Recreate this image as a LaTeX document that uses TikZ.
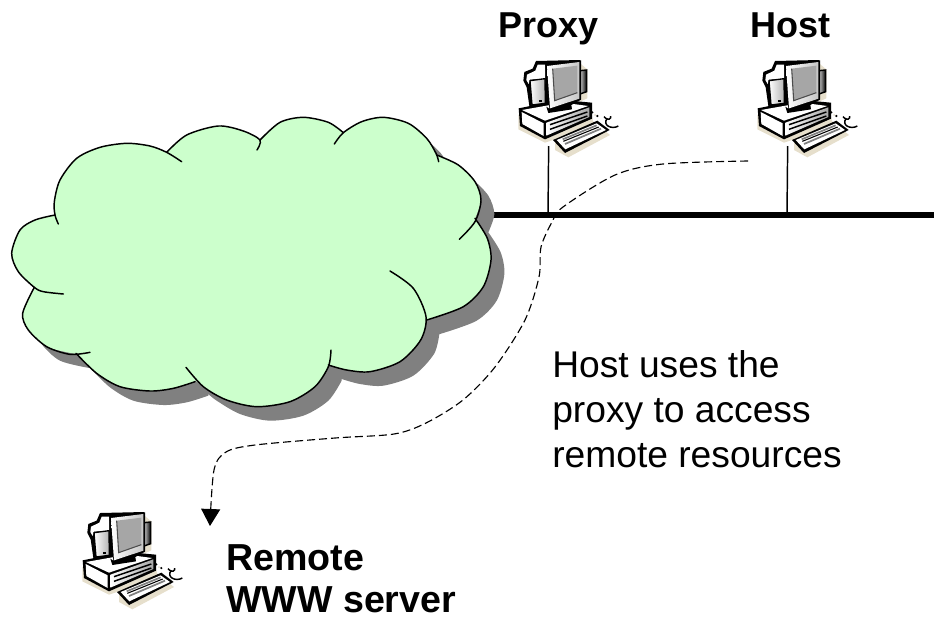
\documentclass[tikz,border=0pt]{standalone}
\usepackage{fontspec}
\setmainfont{Liberation Sans}
\usetikzlibrary{arrows.meta}
\definecolor{cloudgreen}{HTML}{CCFFCC}
\definecolor{shadowgray}{HTML}{808080}
\definecolor{iconshadow}{HTML}{E6DFCC}
\definecolor{screengray}{HTML}{A6A6A6}
\tikzset{
  lobe/.style={draw=black,line width=1.1pt,line cap=round},
  cloud outline/.style={insert path={
    plot[smooth] coordinates{(165,375)(163,335)(180,270)(230,205)(300,172)(380,160)(450,168)(500,187)}
    -- plot[smooth] coordinates{(500,187)(560,135)(655,108)(730,123)(780,150)}
    -- plot[smooth] coordinates{(780,150)(840,97)(910,82)(985,97)(1030,128)}
    -- plot[smooth] coordinates{(1030,128)(1085,95)(1150,82)(1225,100)(1280,145)(1308,190)}
    -- plot[smooth] coordinates{(1310,195)(1375,225)(1425,275)(1443,330)(1425,385)}
    -- plot[smooth] coordinates{(1425,385)(1462,445)(1473,510)(1450,590)(1390,650)(1280,690)}
    -- plot[smooth] coordinates{(1278,690)(1262,750)(1200,815)(1110,845)(1040,840)(985,825)}
    -- plot[smooth] coordinates{(985,830)(945,890)(870,935)(770,950)(680,930)(610,890)(585,870)}
    -- plot[smooth] coordinates{(585,875)(520,895)(450,903)(360,890)(290,850)(228,790)}
    -- plot[smooth] coordinates{(228,792)(140,770)(85,720)(68,670)(103,592)}
    -- plot[smooth] coordinates{(103,592)(55,545)(35,490)(60,420)(105,390)(165,375)}
    -- cycle}},
  bold label/.style={font=\fontsize{27}{31.5}\selectfont\bfseries,inner sep=0pt,anchor=base west,align=left},
  wide bold label/.style={font=\fontsize{28.2}{31.5}\selectfont\bfseries,inner sep=0pt,anchor=base west,align=left},
  body label/.style={font=\fontsize{27.9}{33.75}\selectfont,inner sep=0pt,anchor=base west,align=left},
  drop/.style={draw=black,line width=1.1pt},
  busline/.style={draw=black,line width=5pt},
  path line/.style={draw=black,line width=.85pt,dash pattern=on 6pt off 3pt,-{Triangle[length=12.75pt,width=14.25pt]}},
  pics/computer/.style={code={
    \begin{scope}[x=.25pt,y=-.25pt]
      % cream shadows
      \fill[iconshadow] (55,195)--(55,238)--(135,278)--(165,268)--(165,300)--(205,322)--(330,255)--(280,215)--(270,180)--cycle;
      \fill[iconshadow] (238,38)--(262,58)--(262,145)--(240,155)--cycle;
      % CRT housing
      \fill[black] (108,33)--(240,30)--(240,130)--(140,170)--(88,168)--(80,112)--(70,92)--(73,66)--(98,56)--cycle;
      \fill[white] (113,44)--(135,44)--(135,86)--(90,89)--(86,102)--(79,90)--(81,74)--(106,62)--cycle;
      % tower
      \draw[line width=1pt,left color=white,right color=gray!60] (90,92)--(135,86)--(136,160)--(96,165)--cycle;
      \fill[black] (118,150) rectangle (125,157);
      % back piece at right
      \draw[line width=1.1pt,left color=gray!40,right color=black] (240,62)--(260,60)--(260,125)--(240,132)--cycle;
      % base
      \fill[black] (56,175)--(130,160)--(190,150)--(276,158)--(276,206)--(135,268)--(60,228)--cycle;
      \fill[white] (66,180)--(190,158)--(265,168)--(135,212)--cycle;
      \fill[white] (65,186)--(131,220)--(131,258)--(67,222)--cycle;
      \shade[left color=white,right color=gray!70] (139,218)--(268,172)--(268,201)--(139,257)--cycle;
      \draw[line width=1.1pt] (150,224)--(262,186);
      \draw[line width=1.1pt] (150,238)--(262,198);
      % monitor
      \fill[black] (136,43)--(243,31)--(243,149)--(214,165)--(216,178)--(145,189)--(139,170)--(148,176)--cycle;
      \shade[left color=white,right color=gray!45] (141,48)--(238,36)--(238,146)--(150,175)--cycle;
      \fill[screengray] (158,56)--(232,47)--(232,128)--(164,152)--cycle;
      \draw[black!70,line width=.8pt] (158,56)--(164,152)--(232,128);
      % keyboard
      \fill[black] (159,270)--(292,212)--(329,240)--(195,309)--cycle;
      \fill[white] (170,270)--(290,220)--(318,240)--(196,298)--cycle;
      \draw[gray,line width=1.3pt] (188,268)--(290,226);
      \draw[gray,line width=1.3pt] (195,282)--(303,236);
      \draw[black,line width=.8pt] (190,274)--(296,231);
      % mouse and its cord
      \fill[black] (277,187) circle (3.5);
      \fill[black] (292,198) circle (3.5);
      \fill[iconshadow] (285,195) circle (3);
      \draw[black,line width=1.1pt] (312,200) .. controls (325,215) and (335,205) .. (332,198);
      \draw[black,line width=1.1pt] (322,205) .. controls (305,225) and (335,240) .. (355,228);
      \coordinate (-foot) at (146,288);
    \end{scope}
  }}
}
\begin{document}
\begin{tikzpicture}[x=.75pt,y=-.75pt]
\useasboundingbox (0,0) rectangle (934,618);
% computers
\pic (proxy) at (500,50) {computer};
\pic (host) at (739,50) {computer};
\pic (remote) at (64,502) {computer};
% network
\coordinate (busL) at (470,215);
\coordinate (busR) at (934,215);
\coordinate (proxyTap) at (548,215);
\coordinate (hostTap) at (787,215);
\draw[drop] (proxy-foot) -- (proxyTap);
\draw[drop] (host-foot) -- (hostTap);
% dashed route
\coordinate (routeStart) at (748,161);
\coordinate (routeEnd) at (210,526);
\draw[path line] plot[smooth] coordinates{(routeStart)(663,164)(615,175)(563,207)(552,222)(541,247)(539,277)(525,320)(495,367)(463,400)(426,423)(394,434)(335,438)(255,445)(226,452)(214,470)(routeEnd)};
\draw[busline] (busL) -- (busR);
% cloud
\begin{scope}[shift={(0,90)},x=.25pt,y=-.25pt]
  \fill[shadowgray,shift={(40,42)},cloud outline];
  \fill[cloudgreen,cloud outline];
  \draw[lobe] plot[smooth] coordinates{(175,402)(165,375)(163,335)(180,270)(230,205)(300,172)(380,160)(450,168)(500,187)(545,215)};
  \draw[lobe] plot[smooth] coordinates{(500,187)(560,135)(655,108)(730,123)(780,150)(771,180)};
  \draw[lobe] plot[smooth] coordinates{(780,150)(840,97)(910,82)(985,97)(1030,128)};
  \draw[lobe] plot[smooth] coordinates{(1003,162)(1030,128)(1085,95)(1150,82)(1225,100)(1280,145)(1308,190)(1316,215)};
  \draw[lobe] plot[smooth] coordinates{(1310,195)(1375,225)(1425,275)(1443,330)(1425,395)(1378,448)};
  \draw[lobe] plot[smooth] coordinates{(1425,385)(1462,445)(1473,510)(1450,590)(1390,650)(1280,690)};
  \draw[lobe] plot[smooth] coordinates{(1170,543)(1240,595)(1278,680)(1262,750)(1200,815)(1110,845)(1040,840)(985,825)};
  \draw[lobe] plot[smooth] coordinates{(993,780)(985,830)(945,890)(870,935)(770,950)(680,930)(610,890)(558,832)};
  \draw[lobe] plot[smooth] coordinates{(585,875)(520,895)(450,903)(360,890)(290,850)(228,790)};
  \draw[lobe] plot[smooth] coordinates{(270,787)(210,793)(140,770)(85,720)(68,670)(103,592)};
  \draw[lobe] plot[smooth] coordinates{(190,612)(130,605)(103,592)(55,545)(35,490)(60,420)(105,390)(165,375)};
\end{scope}
% labels
\node[bold label] (proxyLabel) at (498,37) {Proxy};
\node[bold label] (hostLabel) at (750,37) {Host};
\node[wide bold label] (remoteLabel) at (226,612) {Remote\\WWW server};
\node[body label] (note) at (552,467) {Host uses the\\proxy to access\\remote resources};
\end{tikzpicture}
\end{document}
